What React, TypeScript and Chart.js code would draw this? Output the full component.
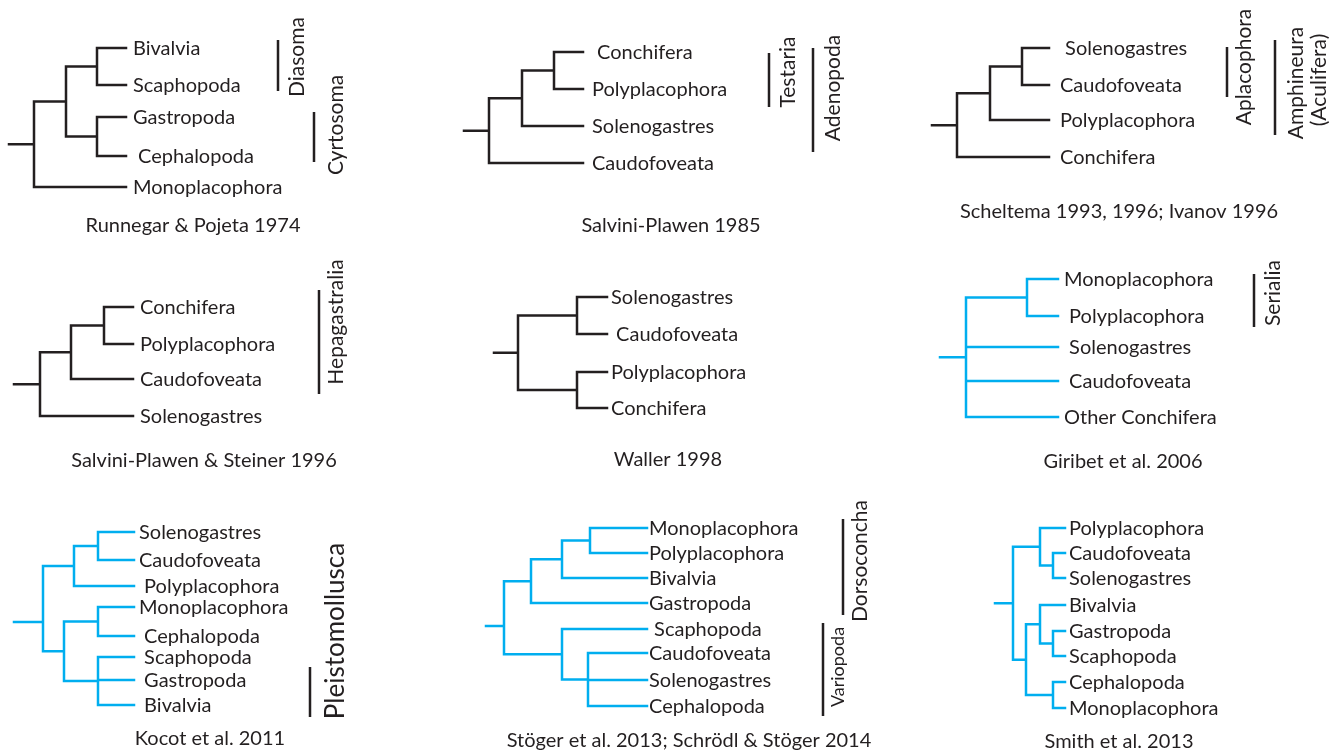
import { useEffect, useRef } from "react";
import { Chart, registerables } from "chart.js";

Chart.register(...registerables);

// ---------------- DATA ----------------
// Each tree: leaf names (top to bottom), leaf rows (y), topology (nested leaf indices),
// node depths (x, preorder).

// Runnegar & Pojeta 1974
const runnegarLeaves = ["Bivalvia", "Scaphopoda", "Gastropoda", " Cephalopoda", "Monoplacophora"];
const runnegarLeafY = [48, 85, 117, 156, 187];
const runnegarTopology = [[[0, 1], [2, 3]], 4];
const runnegarNodeX = [34, 66, 97, 97];

// Salvini-Plawen 1985
const salvini85Leaves = [" Conchifera", "Polyplacophora", "Solenogastres", "Caudofoveata"];
const salvini85LeafY = [52, 89, 126, 163];
const salvini85Topology = [[[0, 1], 2], 3];
const salvini85NodeX = [489, 522, 554];

// Scheltema 1993, 1996; Ivanov 1996
const scheltemaLeaves = [" Solenogastres", "Caudofoveata", "Polyplacophora", "Conchifera"];
const scheltemaLeafY = [48, 85, 120, 157];
const scheltemaTopology = [[[0, 1], 2], 3];
const scheltemaNodeX = [957, 990, 1022];

// Salvini-Plawen & Steiner 1996
const steinerLeaves = ["Conchifera", "Polyplacophora", "Caudofoveata", "Solenogastres"];
const steinerLeafY = [307, 344, 379, 416];
const steinerTopology = [[[0, 1], 2], 3];
const steinerNodeX = [40, 71, 104];

// Waller 1998
const wallerLeaves = ["Solenogastres", " Caudofoveata", "Polyplacophora", "Conchifera"];
const wallerLeafY = [297, 334, 372, 408];
const wallerTopology = [[0, 1], [2, 3]];
const wallerNodeX = [518, 577, 577];

// Giribet et al. 2006
const giribetLeaves = ["Monoplacophora", " Polyplacophora", " Solenogastres", " Caudofoveata", "Other Conchifera"];
const giribetLeafY = [279, 316, 347, 381, 417];
const giribetTopology = [[0, 1], 2, 3, 4];
const giribetNodeX = [966, 1027];

// Kocot et al. 2011
const kocotLeaves = ["Solenogastres", "Caudofoveata", " Polyplacophora", "Monoplacophora", " Cephalopoda", " Scaphopoda", " Gastropoda", " Bivalvia"];
const kocotLeafY = [532, 560, 586, 607, 636, 657, 680, 705];
const kocotTopology = [[[0, 1], 2], [[3, 4], [5, 6, 7]]];
const kocotNodeX = [43, 74, 98, 64, 98, 98];

// Stöger et al. 2013; Schrödl & Stöger 2014
const stogerLeaves = ["Monoplacophora", "Polyplacophora", "Bivalvia", "Gastropoda", " Scaphopoda", "Caudofoveata", "Solenogastres", "Cephalopoda"];
const stogerLeafY = [528, 553, 578, 603, 629, 653, 680, 706];
const stogerTopology = [[[[0, 1], 2], 3], [4, [5, 6, 7]]];
const stogerNodeX = [504, 531, 562, 590, 562, 588];

// Smith et al. 2013
const smithLeaves = ["Polyplacophora", "Caudofoveata", "Solenogastres", "Bivalvia", "Gastropoda", "Scaphopoda", "Cephalopoda", "Monoplacophora"];
const smithLeafY = [528, 553, 578, 605, 631, 656, 682, 708];
const smithTopology = [[0, [1, 2]], [[3, [4, 5]], [6, 7]]];
const smithNodeX = [1013, 1040, 1053, 1026, 1040, 1053, 1053];

// Captions
const captions = [
  "Runnegar & Pojeta 1974",
  "Salvini-Plawen 1985",
  "Scheltema 1993, 1996; Ivanov 1996",
  "Salvini-Plawen & Steiner 1996",
  "Waller 1998",
  "Giribet et al. 2006",
  "Kocot et al. 2011",
  "Stöger et al. 2013; Schrödl & Stöger 2014",
  "Smith et al. 2013",
];

// Clade names and the rows their bars span
const cladeNames = ["Diasoma", "Cyrtosoma", "Testaria", "Adenopoda", "Aplacophora", "Amphineura", "Hepagastralia", "Serialia", "Pleistomollusca", "Dorsoconcha", "Variopoda"];
const cladeBarTop = [40, 112, 53, 48, 47, 40, 290, 274, 667, 519, 623];
const cladeBarBottom = [91, 162, 107, 152, 97, 135, 394, 327, 717, 615, 716];

// ---------------- LAYOUT / STYLE ----------------
const BLACK = "#231f20";
const BLUE = "#00aeef";
const FONT = "Lato";
const LEAF_SIZE = 20;
const CAPTION_SIZE = 20;
const LINE_W = 2.5;

// per tree: [tipX, stubX, stubY|null, labelX, color]
const TREE_LAYOUT: [number, number, number | null, number, string][] = [
  [126, 9, null, 133, BLACK],
  [583, 464, null, 592, BLACK],
  [1049, 932, null, 1060, BLACK],
  [133, 14, null, 140, BLACK],
  [607, 494, null, 611, BLACK],
  [1058, 940, null, 1064, BLUE],
  [134, 14, 622, 139, BLUE],
  [647, 486, 626, 649, BLUE],
  [1065, 995, null, 1069, BLUE],
];
const captionX = [193, 671, 1119, 204, 668, 1123, 210, 689, 1119];
const captionY = [225, 225, 211, 460, 459, 461, 738, 740, 741];
const cladeBarX = [278, 314, 769, 813, 1227, 1275, 319, 1254, 310, 843, 823];
const cladeTextX = [296, 335, 787, 832, 1243, 1295, 335, 1272, 335, 859, 838];
const cladeTextY = [57, 125, 72, 88, 67, 83, 322, 293, 631, 561, 667];
const cladeTextSize = [21, 21, 21, 21, 21, 21, 21, 21, 26, 21, 18];
const extraVertical = [{ text: "(Aculifera)", x: 1318, y: 80, size: 21 }];

const TREES = [
  { leaves: runnegarLeaves, leafY: runnegarLeafY, topo: runnegarTopology, nodeX: runnegarNodeX },
  { leaves: salvini85Leaves, leafY: salvini85LeafY, topo: salvini85Topology, nodeX: salvini85NodeX },
  { leaves: scheltemaLeaves, leafY: scheltemaLeafY, topo: scheltemaTopology, nodeX: scheltemaNodeX },
  { leaves: steinerLeaves, leafY: steinerLeafY, topo: steinerTopology, nodeX: steinerNodeX },
  { leaves: wallerLeaves, leafY: wallerLeafY, topo: wallerTopology, nodeX: wallerNodeX },
  { leaves: giribetLeaves, leafY: giribetLeafY, topo: giribetTopology, nodeX: giribetNodeX },
  { leaves: kocotLeaves, leafY: kocotLeafY, topo: kocotTopology, nodeX: kocotNodeX },
  { leaves: stogerLeaves, leafY: stogerLeafY, topo: stogerTopology, nodeX: stogerNodeX },
  { leaves: smithLeaves, leafY: smithLeafY, topo: smithTopology, nodeX: smithNodeX },
];

type Pt = { x: number; y: number | null };

function buildTree(topo: any, nodeX: number[], leafY: number[], tipX: number, stubX: number, stubY: number | null): Pt[] {
  const pts: Pt[] = [];
  let k = 0;
  const seg = (x1: number, y1: number, x2: number, y2: number) => {
    pts.push({ x: x1, y: y1 }, { x: x2, y: y2 }, { x: x2, y: null });
  };
  const rec = (t: any): { x: number; y: number } => {
    if (typeof t === "number") return { x: tipX, y: leafY[t] };
    const x = nodeX[k++];
    const kids = (t as any[]).map(rec);
    kids.forEach((c) => seg(x, c.y, c.x, c.y));
    const ys = kids.map((c) => c.y);
    const lo = Math.min(...ys);
    const hi = Math.max(...ys);
    seg(x, lo, x, hi);
    return { x, y: (lo + hi) / 2 };
  };
  const root = rec(topo);
  const sy = stubY ?? root.y;
  seg(stubX, sy, root.x, sy);
  return pts;
}

function buildBars(): Pt[] {
  const pts: Pt[] = [];
  cladeBarX.forEach((x, i) => {
    pts.push({ x, y: cladeBarTop[i] }, { x, y: cladeBarBottom[i] }, { x, y: null });
  });
  return pts;
}

const textPlugin = {
  id: "treeText",
  afterDatasetsDraw(chart: any) {
    const { ctx, scales } = chart;
    const sx = scales.x;
    const sy = scales.y;
    ctx.save();
    ctx.fillStyle = BLACK;
    ctx.textBaseline = "alphabetic";
    // leaf labels
    ctx.font = `${LEAF_SIZE}px ${FONT}`;
    ctx.textAlign = "left";
    TREES.forEach((t, i) => {
      const lx = TREE_LAYOUT[i][3];
      t.leaves.forEach((name, j) => {
        ctx.fillText(name, sx.getPixelForValue(lx), sy.getPixelForValue(t.leafY[j]) + LEAF_SIZE * 0.36);
      });
    });
    // captions
    ctx.font = `${CAPTION_SIZE}px ${FONT}`;
    ctx.textAlign = "center";
    captions.forEach((c, i) => {
      ctx.fillText(c, sx.getPixelForValue(captionX[i]), sy.getPixelForValue(captionY[i]) + CAPTION_SIZE * 0.36);
    });
    // vertical clade labels
    const vtext = (text: string, x: number, y: number, size: number) => {
      ctx.save();
      ctx.font = `${size}px ${FONT}`;
      ctx.translate(sx.getPixelForValue(x) + size * 0.36, sy.getPixelForValue(y));
      ctx.rotate(-Math.PI / 2);
      ctx.textAlign = "center";
      ctx.fillText(text, 0, 0);
      ctx.restore();
    };
    cladeNames.forEach((n, i) => vtext(n, cladeTextX[i], cladeTextY[i], cladeTextSize[i]));
    extraVertical.forEach((e) => vtext(e.text, e.x, e.y, e.size));
    ctx.restore();
  },
};

export default function App() {
  const ref = useRef<HTMLCanvasElement | null>(null);
  useEffect(() => {
    document.body.style.margin = "0";
    document.body.style.background = "#ffffff";
    const canvas = ref.current!;
    const datasets: any[] = TREES.map((t, i) => {
      const [tipX, stubX, stubY, , color] = TREE_LAYOUT[i];
      return {
        data: buildTree(t.topo, t.nodeX, t.leafY, tipX, stubX, stubY),
        borderColor: color,
        borderWidth: LINE_W,
        borderCapStyle: "square",
        pointRadius: 0,
        spanGaps: false,
        tension: 0,
        fill: false,
      };
    });
    datasets.push({
      data: buildBars(),
      borderColor: BLACK,
      borderWidth: LINE_W,
      borderCapStyle: "butt",
      pointRadius: 0,
      spanGaps: false,
      fill: false,
    });
    const chart = new Chart(canvas, {
      type: "line",
      data: { datasets },
      options: {
        animation: false,
        responsive: false,
        events: [],
        layout: { padding: 0 },
        plugins: { legend: { display: false }, tooltip: { enabled: false } },
        scales: {
          x: { type: "linear", min: 0, max: 1338, display: false },
          y: { type: "linear", min: 0, max: 754, reverse: true, display: false },
        },
        datasets: { line: { clip: false } as any },
      } as any,
      plugins: [textPlugin],
    });
    return () => chart.destroy();
  }, []);
  return (
    <div style={{ position: "fixed", left: 0, top: 0, width: 1338, height: 754, background: "#fff" }}>
      <canvas ref={ref} width={1338} height={754} style={{ display: "block" }} />
    </div>
  );
}
